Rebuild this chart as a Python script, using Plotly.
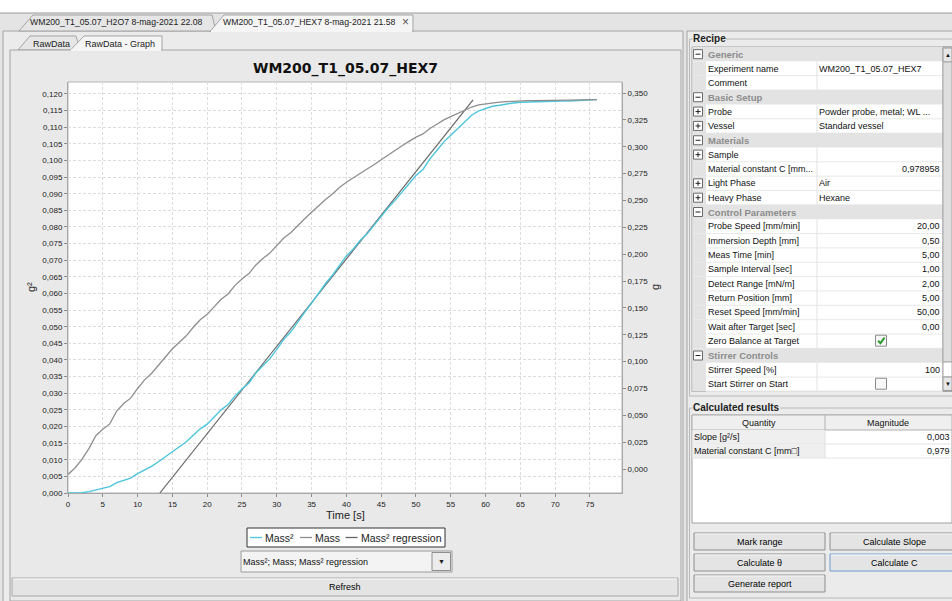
import plotly.graph_objects as go

W, H = 952, 601
UI = "Liberation Sans, Arial, sans-serif"
UI_SIZE = 9

# ---------------- measurement data ----------------
time_s = list(range(0, 77))

mass_g = [
    -0.0050, 0.0010, 0.0090, 0.0190, 0.0310, 0.0370, 0.0420, 0.0540, 0.0610, 0.0660,
    0.0750, 0.0830, 0.0890, 0.0970, 0.1040, 0.1120, 0.1180, 0.1240, 0.1320, 0.1390,
    0.1440, 0.1510, 0.1580, 0.1630, 0.1710, 0.1770, 0.1820, 0.1900, 0.1960, 0.2010,
    0.2080, 0.2150, 0.2200, 0.2270, 0.2330, 0.2390, 0.2450, 0.2510, 0.2560, 0.2620,
    0.2670, 0.2710, 0.2750, 0.2790, 0.2835, 0.2880, 0.2925, 0.2970, 0.3010, 0.3050,
    0.3090, 0.3120, 0.3170, 0.3210, 0.3250, 0.3280, 0.3310, 0.3340, 0.3370, 0.3390,
    0.3400, 0.3410, 0.3415, 0.3420, 0.3425, 0.3428, 0.3430, 0.3430, 0.3432, 0.3432,
    0.3433, 0.3434, 0.3434, 0.3436, 0.3437, 0.3438, 0.3439,
]

mass_sq_g2 = [
    0.0000, 0.0000, 0.0001, 0.0004, 0.0009, 0.0015, 0.0019, 0.0031, 0.0038, 0.0045,
    0.0058, 0.0069, 0.0080, 0.0094, 0.0108, 0.0124, 0.0139, 0.0154, 0.0174, 0.0193,
    0.0207, 0.0228, 0.0250, 0.0266, 0.0292, 0.0313, 0.0331, 0.0361, 0.0384, 0.0404,
    0.0432, 0.0462, 0.0484, 0.0515, 0.0543, 0.0571, 0.0600, 0.0630, 0.0655, 0.0686,
    0.0713, 0.0734, 0.0760, 0.0780, 0.0806, 0.0830, 0.0858, 0.0880, 0.0906, 0.0930,
    0.0955, 0.0973, 0.1005, 0.1030, 0.1056, 0.1076, 0.1096, 0.1116, 0.1136, 0.1149,
    0.1156, 0.1163, 0.1166, 0.1170, 0.1173, 0.1175, 0.1176, 0.1176, 0.1178, 0.1178,
    0.1179, 0.1179, 0.1179, 0.1181, 0.1181, 0.1182, 0.1183,
]

regression_t = [13.2, 58.2]
regression_g2 = [0.0, 0.1182]

series_names = ["Mass²", "Mass", "Mass² regression"]
series_colors = ["#4cc5db", "#8e8e8e", "#666666"]

chart_title = "WM200_T1_05.07_HEX7"

# ---------------- helpers (pixel -> paper) ----------------
def px(x):
    return x / W


def py(y):
    return 1 - y / H


shapes = []
annotations = []


def rect(x0, y0, x1, y1, fill="rgba(0,0,0,0)", line="rgba(0,0,0,0)", lw=1):
    shapes.append(dict(type="rect", xref="paper", yref="paper",
                       x0=px(x0), x1=px(x1), y0=py(y1), y1=py(y0),
                       fillcolor=fill, line=dict(color=line, width=lw), layer="below"))


def hline(x0, x1, y, color="#a0a0a0", lw=1):
    shapes.append(dict(type="line", xref="paper", yref="paper",
                       x0=px(x0), x1=px(x1), y0=py(y), y1=py(y),
                       line=dict(color=color, width=lw), layer="below"))


def vline(x, y0, y1, color="#a0a0a0", lw=1):
    shapes.append(dict(type="line", xref="paper", yref="paper",
                       x0=px(x), x1=px(x), y0=py(y0), y1=py(y1),
                       line=dict(color=color, width=lw), layer="below"))


def path(pts, fill="rgba(0,0,0,0)", line="#a0a0a0", lw=1, close=True):
    d = "M " + " L ".join(f"{px(x):.5f},{py(y):.5f}" for x, y in pts)
    if close:
        d += " Z"
    shapes.append(dict(type="path", xref="paper", yref="paper", path=d,
                       fillcolor=fill, line=dict(color=line, width=lw), layer="below"))


def text(x, y, s, size=UI_SIZE, color="#000000", bold=False, anchor="left",
         angle=0, bg=None, family=UI):
    a = dict(x=px(x), y=py(y), xref="paper", yref="paper",
             text=f"<b>{s}</b>" if bold else s, showarrow=False,
             xanchor=anchor, yanchor="middle", textangle=angle,
             font=dict(family=family, size=size, color=color),
             borderpad=0, borderwidth=0)
    if bg:
        a["bgcolor"] = bg
    annotations.append(a)


def button(x0, y0, x1, y1, label, border="#8e8e8e", cx=None):
    rect(x0, y0, x1, y1, fill="#e4e4e4", line=border)
    hline(x0 + 1, x1 - 1, y0 + 1, color="#f6f6f6")
    text((x0 + x1) / 2 if cx is None else cx, (y0 + y1) / 2, label, anchor="center")


PANEL = "#ebebeb"

# ---------------- window frame and tabs ----------------
rect(0, 13, 952, 601, fill="#e4e4e4", line="rgba(0,0,0,0)")
hline(0, 952, 13, color="#9c9c9c")
rect(3, 31, 683, 603, fill=PANEL, line="#a4a4a4")
rect(687, 31, 956, 603, fill=PANEL, line="#a4a4a4")

path([(19, 31), (33, 15), (212, 15), (216, 31)], fill="#e6e6e6", line="#a4a4a4")
path([(210, 31.5), (224, 15), (413, 15), (413, 31.5)], fill="#f5f5f5", line="#a4a4a4")
hline(211, 412, 31, color="#f5f5f5", lw=2)
text(30, 22.5, "WM200_T1_05.07_H2O7 8-mag-2021 22.08", size=8.7, color="#222")
text(223, 22.5, "WM200_T1_05.07_HEX7 8-mag-2021 21.58", size=8.7, color="#222")
text(405.5, 22.5, "×", size=12, color="#555", anchor="center")

# sub tabs
path([(18, 50), (30, 36), (76, 36), (80, 50)], fill="#e6e6e6", line="#a4a4a4")
path([(70, 50.5), (84, 36), (162, 36), (162, 50.5)], fill="#f5f5f5", line="#a4a4a4")
text(33, 43.5, "RawData", color="#222")
text(85, 43.5, "RawData - Graph", color="#222")

# chart panel
rect(10, 50, 681, 601, fill="#e9e9e9", line="#a4a4a4")
hline(71, 161, 50, color="#f5f5f5", lw=2)

# plot area background
rect(68, 82, 622, 493, fill="#ffffff", line="#b4b4b4")

# ---------------- chart texts ----------------
text(345, 68, chart_title, size=14, bold=True, anchor="center",
     family="DejaVu Sans, sans-serif", color="#111")
text(345, 515, "Time [s]", size=11, anchor="center", color="#222")
text(31, 287, "g²", size=11, anchor="center", angle=-90, color="#222")
text(655, 287, "g", size=11, anchor="center", angle=-90, color="#222")

# legend
rect(247, 528, 445, 547, fill="#ffffff", line="#333333")
leg_line_x = [250, 300, 345.5]
leg_text_x = [265, 314.5, 360.5]
for name, col, lx, tx in zip(series_names, series_colors, leg_line_x, leg_text_x):
    hline(lx, lx + 12, 537.5, color=col, lw=1.3)
    text(tx, 537.5, name, size=10.5, color="#222")

# series selector
rect(241, 551, 452, 572, fill="#f3f3f3", line="#9a9a9a")
rect(432, 552.5, 450.5, 570.5, fill="#ececec", line="#8e8e8e")
text(441, 561.5, "▼", size=7, anchor="center", color="#222")
text(243, 561.5, "; ".join(series_names), color="#111")

button(12, 578, 678, 596, "Refresh", border="#a8a8a8")

# ---------------- Recipe panel ----------------
rect(689.5, 39, 960, 396, line="#b8b8b8")
text(693, 38.5, "Recipe", size=10, bold=True, bg=PANEL, color="#222")

GRID_TOP, ROW_H = 47, 14.35
VAL_X, LBL_X, RIGHT_X = 817, 708, 943

recipe_rows = [
    ("cat", "Generic", ""),
    ("row", "Experiment name", "WM200_T1_05.07_HEX7"),
    ("row", "Comment", ""),
    ("cat", "Basic Setup", ""),
    ("exp", "Probe", "Powder probe, metal; WL ..."),
    ("exp", "Vessel", "Standard vessel"),
    ("cat", "Materials", ""),
    ("exp", "Sample", ""),
    ("num", "Material constant C [mm...", "0,978958"),
    ("exp", "Light Phase", "Air"),
    ("exp", "Heavy Phase", "Hexane"),
    ("cat", "Control Parameters", ""),
    ("num", "Probe Speed [mm/min]", "20,00"),
    ("num", "Immersion Depth [mm]", "0,50"),
    ("num", "Meas Time [min]", "5,00"),
    ("num", "Sample Interval [sec]", "1,00"),
    ("num", "Detect Range [mN/m]", "2,00"),
    ("num", "Return Position [mm]", "5,00"),
    ("num", "Reset Speed [mm/min]", "50,00"),
    ("num", "Wait after Target [sec]", "0,00"),
    ("check", "Zero Balance at Target", True),
    ("cat", "Stirrer Controls", ""),
    ("num", "Stirrer Speed [%]", "100"),
    ("check", "Start Stirrer on Start", False),
]

grid_bottom = GRID_TOP + ROW_H * len(recipe_rows)
rect(692, GRID_TOP, 952, grid_bottom, fill="#ffffff", line="#a0a0a0")


def toggle_icon(cy, plus):
    rect(693.5, cy - 4.5, 702.5, cy + 4.5, fill="#ffffff", line="#6a6a6a")
    hline(695.5, 700.5, cy, color="#222")
    if plus:
        vline(698, cy - 2.5, cy + 2.5, color="#222")


for i, (kind, label, value) in enumerate(recipe_rows):
    y0 = GRID_TOP + i * ROW_H
    y1 = y0 + ROW_H
    cy = (y0 + y1) / 2
    if kind == "cat":
        rect(692.5, y0, RIGHT_X, y1, fill="#e3e3e3")
        toggle_icon(cy, False)
        text(LBL_X, cy, label, size=9.5, bold=True, color="#8c8c8c")
        continue
    rect(692.5, y0, 706, y1, fill="#e3e3e3")
    hline(706, RIGHT_X, y1, color="#e8e8e8")
    vline(VAL_X, y0, y1, color="#e2e2e2")
    if kind == "exp":
        toggle_icon(cy, True)
    text(LBL_X, cy, label, color="#111")
    if kind == "check":
        rect(875.5, cy - 6, 886.5, cy + 5, fill="#f8f8f8", line="#8a8a8a")
        if value:
            path([(878, cy - 0.5), (880.5, cy + 2), (884.5, cy - 3.5)],
                 line="#2f9a2f", lw=2, close=False)
    elif kind == "num":
        text(940, cy, value, anchor="right", color="#111")
    elif value:
        text(819, cy, value, color="#111")

# scrollbar
rect(943, GRID_TOP, 952, grid_bottom, fill="#f0f0f0", line="#a0a0a0")
rect(943, GRID_TOP + 1, 952, 62, fill="#e6e6e6", line="#9a9a9a")
text(947.5, 55, "▲", size=6, anchor="center", color="#111")
rect(943, 62, 952, 362, fill="#dedede", line="#a8a8a8")
rect(943, 362, 952, 377, fill="#ffffff", line="#a8a8a8")
rect(943, 377, 952, grid_bottom - 1, fill="#e6e6e6", line="#9a9a9a")
text(947.5, 384, "▼", size=6, anchor="center", color="#111")

# ---------------- Calculated results ----------------
rect(689.5, 408, 960, 598, line="#b8b8b8")
text(693, 408, "Calculated results", size=10, bold=True, bg=PANEL, color="#222")

rect(692, 415, 952, 523, fill="#ffffff", line="#a0a0a0")
rect(692, 415, 952, 430, fill="#efefef", line="#b0b0b0")
vline(825, 415, 430, color="#b0b0b0")
text(759, 422.5, "Quantity", anchor="center", color="#111")
text(888, 422.5, "Magnitude", anchor="center", color="#111")

result_rows = [("Slope [g²/s]", "0,003"), ("Material constant C [mm□]", "0,979")]
for i, (label, value) in enumerate(result_rows):
    y0 = 430 + i * 14
    rect(692.5, y0, 825, y0 + 14, fill="#efefef")
    hline(692.5, 952, y0 + 14, color="#e4e4e4")
    vline(825, y0, y0 + 14, color="#e0e0e0")
    text(693.5, y0 + 7, label, color="#111")
    text(950, y0 + 7, value, anchor="right", color="#111")

button(694, 533, 825, 550, "Mark range")
button(830, 533, 970, 550, "Calculate Slope", cx=894)
button(694, 554, 825, 571, "Calculate θ")
button(830, 554, 970, 571, "Calculate C", border="#6f9bd0", cx=894)
button(694, 575, 825, 592, "Generate report")

# ---------------- figure ----------------
fig = go.Figure()
fig.add_trace(go.Scatter(x=regression_t, y=regression_g2, mode="lines",
                         name=series_names[2], yaxis="y",
                         line=dict(color=series_colors[2], width=1.2)))
fig.add_trace(go.Scatter(x=time_s, y=mass_g, mode="lines", name=series_names[1],
                         yaxis="y2", line=dict(color=series_colors[1], width=1.3)))
fig.add_trace(go.Scatter(x=time_s, y=mass_sq_g2, mode="lines", name=series_names[0],
                         yaxis="y", line=dict(color=series_colors[0], width=1.4)))

tick_font = dict(family=UI, size=8, color="#222")
common = dict(ticks="outside", ticklen=3, tickcolor="#8c8c8c", tickfont=tick_font,
              zeroline=False, showline=True, linecolor="#a8a8a8", linewidth=1,
              automargin=False)

fig.update_layout(
    width=W, height=H,
    margin=dict(l=0, r=0, t=0, b=0, pad=0, autoexpand=False),
    paper_bgcolor="#ffffff",
    plot_bgcolor="rgba(0,0,0,0)",
    showlegend=False,
    separators=",.",
    xaxis=dict(domain=[px(68), px(622)], range=[0, 79.6], tick0=0, dtick=5,
               showgrid=True, gridcolor="#dcdcdc", griddash="3px,2px", gridwidth=1,
               **common),
    yaxis=dict(domain=[py(493), py(82)], range=[0, 0.1236], tick0=0, dtick=0.005,
               tickformat=".3f", showgrid=True, gridcolor="#dcdcdc",
               griddash="3px,2px", gridwidth=1, **common),
    yaxis2=dict(overlaying="y", side="right", anchor="x",
                range=[-0.0223, 0.3603], tick0=0, dtick=0.025, tickformat=".3f",
                showgrid=False, **common),
    shapes=shapes,
    annotations=annotations,
)

fig.write_html("out.html", config={"displayModeBar": False})
